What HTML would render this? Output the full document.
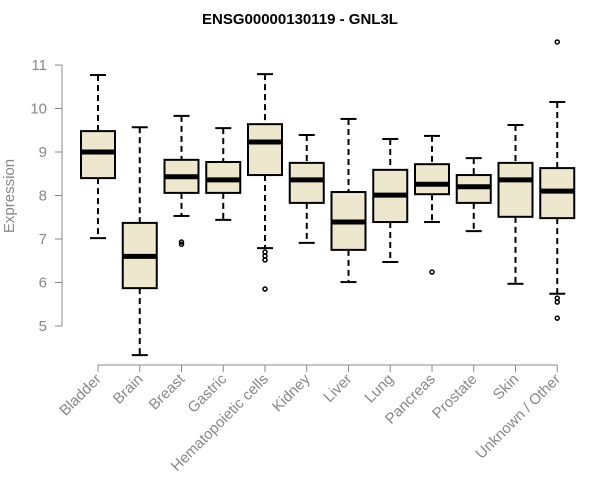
<!DOCTYPE html>
<html><head><meta charset="utf-8"><style>
body{margin:0;background:#fff;}
svg{display:block;font-family:"Liberation Sans",Arial,sans-serif;}
</style></head><body>
<svg id="chart" width="600" height="500">
<text x="300" y="24" text-anchor="middle" font-weight="bold" font-size="15">ENSG00000130119 - GNL3L</text>
<text transform="translate(14,196) rotate(-90)" text-anchor="middle" font-size="15" fill="#888">Expression</text>
<g id="yaxis"></g>
<g id="xaxis"></g>
<g id="boxes"></g>
</svg>
<script>
const categories=["Bladder","Brain","Breast","Gastric","Hematopoietic cells","Kidney","Liver","Lung","Pancreas","Prostate","Skin","Unknown / Other"];
const whiskerLow=[7.02,4.33,7.53,7.44,6.79,6.91,6.01,6.47,7.39,7.18,5.97,5.74];
const q1=[8.4,5.87,8.06,8.06,8.47,7.83,6.75,7.39,8.03,7.83,7.51,7.48];
const medians=[9.0,6.6,8.43,8.36,9.23,8.36,7.39,8.01,8.26,8.2,8.36,8.1];
const q3=[9.48,7.37,8.82,8.77,9.64,8.75,8.08,8.59,8.72,8.47,8.75,8.63];
const whiskerHigh=[10.77,9.57,9.83,9.55,10.79,9.39,9.76,9.3,9.37,8.86,9.62,10.15];
const outliers=[[],[],[6.93,6.88],[],[6.7,6.61,6.52,5.85],[],[],[],[6.24],[],[],[11.53,5.64,5.55,5.18]];
const yTicks=[5,6,7,8,9,10,11];
const NS="http://www.w3.org/2000/svg";
function y(v){return 65+(11-v)*43.5;}
function x(i){return 98+i*41.75;}
function mk(t,a,p){const e=document.createElementNS(NS,t);for(const k in a)e.setAttribute(k,a[k]);p.appendChild(e);return e;}
const ya=document.getElementById('yaxis'),xa=document.getElementById('xaxis'),bx=document.getElementById('boxes');
mk('line',{x1:62,x2:62,y1:y(11),y2:y(5),stroke:'#888'},ya);
yTicks.forEach(t=>{mk('line',{x1:55,x2:62,y1:y(t),y2:y(t),stroke:'#888'},ya);
const tx=mk('text',{x:47,y:y(t)+5,'text-anchor':'end','font-size':15,fill:'#888'},ya);tx.textContent=t;

});
mk('line',{x1:x(0),x2:x(categories.length-1),y1:365,y2:365,stroke:'#888'},xa);
categories.forEach((c,i)=>{
mk('line',{x1:x(i),x2:x(i),y1:365,y2:372,stroke:'#888'},xa);
const tx=mk('text',{transform:`translate(${x(i)+4},${380}) rotate(-45)`,'text-anchor':'end','font-size':15,fill:'#888'},xa);tx.textContent=c;


const g=mk('g',{},bx);


const cx=x(i),w=17;
mk('line',{x1:cx,x2:cx,y1:y(whiskerHigh[i]),y2:y(q3[i]),stroke:'#000','stroke-width':2,'stroke-dasharray':'6,4'},g);
mk('line',{x1:cx,x2:cx,y1:y(q1[i]),y2:y(whiskerLow[i]),stroke:'#000','stroke-width':2,'stroke-dasharray':'6,4'},g);
mk('line',{x1:cx-8,x2:cx+8,y1:y(whiskerHigh[i]),y2:y(whiskerHigh[i]),stroke:'#000','stroke-width':2},g);
mk('line',{x1:cx-8,x2:cx+8,y1:y(whiskerLow[i]),y2:y(whiskerLow[i]),stroke:'#000','stroke-width':2},g);
mk('rect',{x:cx-w,y:y(q3[i]),width:2*w,height:y(q1[i])-y(q3[i]),fill:'#ede7cd',stroke:'#000','stroke-width':2},g);
mk('line',{x1:cx-w,x2:cx+w,y1:y(medians[i]),y2:y(medians[i]),stroke:'#000','stroke-width':5},g);
outliers[i].forEach(o=>mk('circle',{cx:cx,cy:y(o),r:2,fill:'none',stroke:'#000','stroke-width':1.5},g));
});
</script>
</body></html>
